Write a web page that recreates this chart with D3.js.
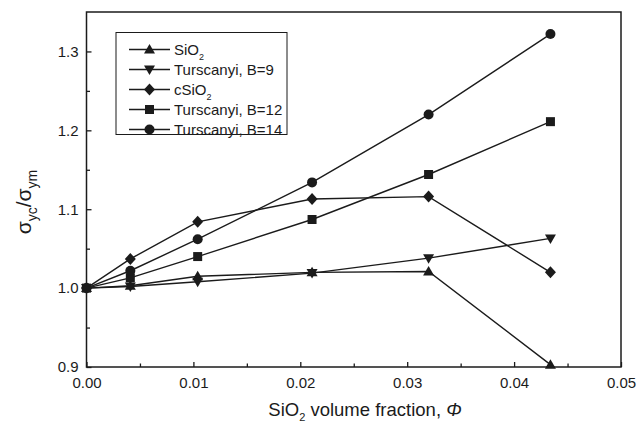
<!DOCTYPE html>
<html>
<head>
<meta charset="utf-8">
<script src="https://cdn.jsdelivr.net/npm/d3@7"></script>
<style>
  body { margin: 0; background: #fff; }
  svg { display: block; font-family: "Liberation Sans", Arial, sans-serif; }
</style>
</head>
<body>
<div id="chart"></div>
<script>
// volume fractions (x)
const phi = [0, 0.0041, 0.0104, 0.0211, 0.0320, 0.0434];

// sigma_yc / sigma_ym for each series
const siO2 = [1.0, 1.003, 1.015, 1.020, 1.021, 0.903];
const turB9 = [1.0, 1.002, 1.008, 1.019, 1.038, 1.063];
const cSiO2 = [1.0, 1.037, 1.084, 1.113, 1.116, 1.020];
const turB12 = [1.0, 1.013, 1.040, 1.087, 1.144, 1.211];
const turB14 = [1.0, 1.022, 1.062, 1.134, 1.220, 1.322];

const seriesNames = ["SiO2", "Turscanyi, B=9", "cSiO2", "Turscanyi, B=12", "Turscanyi, B=14"];
const seriesSymbols = ["triUp", "triDown", "diamond", "square", "circle"];
const seriesValues = [siO2, turB9, cSiO2, turB12, turB14];

const xTicks = [0, 0.01, 0.02, 0.03, 0.04, 0.05];
const yTicks = [0.9, 1.0, 1.1, 1.2, 1.3];

const W = 637, H = 423;
const margin = {top: 12, right: 16, bottom: 56, left: 86.5};
const ink = "#1b1b1b";

const svg = d3.select("#chart").append("svg")
    .attr("width", W)
    .attr("height", H);

const x = d3.scaleLinear().domain([0, 0.05]).range([margin.left, W - margin.right]);
const y = d3.scaleLinear().domain([0.9, 1.35]).range([H - margin.bottom, margin.top]);

// frame
svg.append("rect")
    .attr("x", x(0)).attr("y", y(1.35))
    .attr("width", x(0.05) - x(0)).attr("height", y(0.9) - y(1.35))
    .attr("fill", "none").attr("stroke", ink).attr("stroke-width", 1.5);

// x axis (ticks inward)
const xAxis = svg.append("g")
    .attr("transform", `translate(0,${y(0.9)})`)
    .call(d3.axisBottom(x).tickValues(xTicks).tickFormat(d3.format(".2f")).tickSize(-5).tickPadding(10));
xAxis.select(".domain").remove();
xAxis.selectAll("line").attr("stroke", ink).attr("stroke-width", 1.3);
xAxis.selectAll("text").attr("font-size", 15).attr("fill", ink).attr("font-family", null);

svg.append("g")
    .attr("transform", `translate(0,${y(0.9)})`)
    .call(d3.axisBottom(x).tickValues(d3.range(0.005, 0.05, 0.01)).tickFormat("").tickSize(-3.5))
    .call(g => g.select(".domain").remove())
    .selectAll("line").attr("stroke", ink).attr("stroke-width", 1.3);

// y axis (ticks inward)
const yAxis = svg.append("g")
    .attr("transform", `translate(${x(0)},0)`)
    .call(d3.axisLeft(y).tickValues(yTicks).tickFormat(d3.format(".1f")).tickSize(-5).tickPadding(8));
yAxis.select(".domain").remove();
yAxis.selectAll("line").attr("stroke", ink).attr("stroke-width", 1.3);
yAxis.selectAll("text").attr("font-size", 15).attr("fill", ink).attr("font-family", null);

svg.append("g")
    .attr("transform", `translate(${x(0)},0)`)
    .call(d3.axisLeft(y).tickValues([0.95, 1.05, 1.15, 1.25]).tickFormat("").tickSize(-3.5))
    .call(g => g.select(".domain").remove())
    .selectAll("line").attr("stroke", ink).attr("stroke-width", 1.3);

// axis titles
const xt = svg.append("text")
    .attr("x", 365).attr("y", 416)
    .attr("text-anchor", "middle")
    .attr("font-size", 18.5).attr("fill", ink);
xt.append("tspan").text("SiO");
xt.append("tspan").text("2").attr("font-size", 11).attr("dy", 5);
xt.append("tspan").text(" volume fraction, ").attr("dy", -5);
xt.append("tspan").text("Φ").attr("font-style", "italic");

const yt = svg.append("text")
    .attr("transform", `translate(31,202) rotate(-90)`)
    .attr("text-anchor", "middle")
    .attr("font-size", 21).attr("fill", ink);
yt.append("tspan").text("σ");
yt.append("tspan").text("yc").attr("font-size", 14).attr("dy", 6);
yt.append("tspan").text("/σ").attr("dy", -6);
yt.append("tspan").text("ym").attr("font-size", 14).attr("dy", 6);

// symbols
const symbolPath = {
  triUp: "M0,-5.5L5.5,4L-5.5,4Z",
  triDown: "M0,5.5L5.5,-4L-5.5,-4Z",
  diamond: "M0,-6L5.5,0L0,6L-5.5,0Z",
  square: "M-4.5,-4.5H4.5V4.5H-4.5Z",
  circle: "M5,0A5,5 0 1,1 -5,0A5,5 0 1,1 5,0Z"
};

const line = d3.line().x((d, i) => x(phi[i])).y(d => y(d));

seriesValues.forEach((vals, s) => {
  svg.append("path")
      .datum(vals)
      .attr("d", line)
      .attr("fill", "none")
      .attr("stroke", ink)
      .attr("stroke-width", 1.4);
});

seriesValues.forEach((vals, s) => {
  svg.selectAll(".m" + s)
      .data(vals)
      .enter()
      .append("path")
      .attr("class", "m" + s)
      .attr("transform", (d, i) => `translate(${x(phi[i])},${y(d)})`)
      .attr("d", symbolPath[seriesSymbols[s]])
      .attr("fill", ink);
});

// legend
const lg = svg.append("g");
lg.append("rect")
    .attr("x", 116).attr("y", 32.5)
    .attr("width", 171).attr("height", 102)
    .attr("fill", "#fff").attr("stroke", ink).attr("stroke-width", 1);

seriesNames.forEach((name, s) => {
  const ly = 49.5 + s * 20;
  lg.append("line")
      .attr("x1", 129).attr("x2", 170)
      .attr("y1", ly).attr("y2", ly)
      .attr("stroke", ink).attr("stroke-width", 1.4);
  lg.append("path")
      .attr("transform", `translate(149.5,${ly})`)
      .attr("d", symbolPath[seriesSymbols[s]])
      .attr("fill", ink);
  const t = lg.append("text")
      .attr("x", 174).attr("y", ly + 5.5)
      .attr("font-size", 15).attr("fill", ink);
  if (name.endsWith("SiO2")) {
    t.append("tspan").text(name.slice(0, -1));
    t.append("tspan").text("2").attr("font-size", 9).attr("dy", 5);
  } else {
    t.text(name);
  }
});
</script>
</body>
</html>
